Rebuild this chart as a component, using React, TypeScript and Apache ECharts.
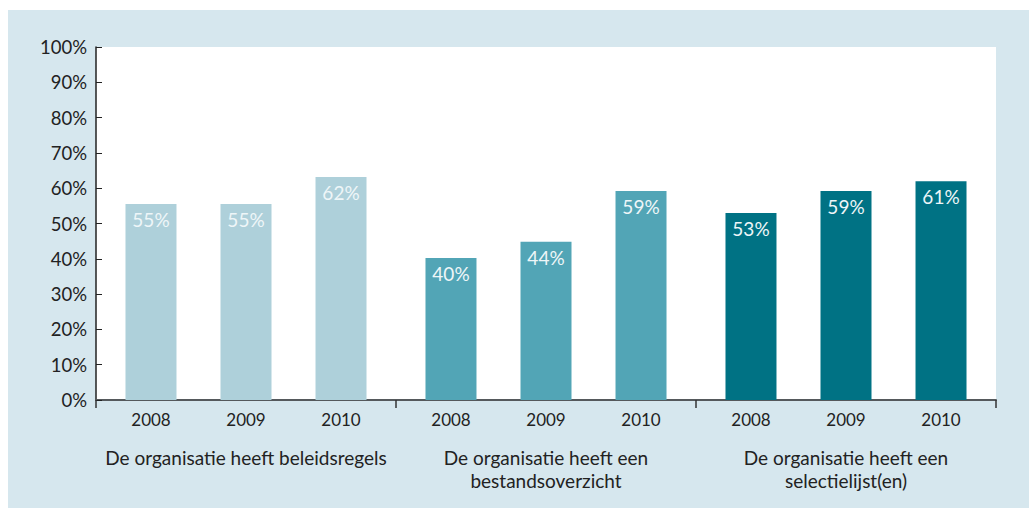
import React, { useEffect, useRef } from "react";
import * as echarts from "echarts";

// Categories
const groups = [
  "De organisatie heeft beleidsregels",
  "De organisatie heeft een\nbestandsoverzicht",
  "De organisatie heeft een\nselectielijst(en)",
];
const years = ["2008", "2009", "2010"];

// Bar heights (percent), per group, per year
const beleidsregels = [55.5, 55.5, 63.2];
const bestandsoverzicht = [40.2, 44.8, 59.2];
const selectielijst = [53, 59.2, 62];

// Printed labels (percent)
const beleidsregelsLabels = [55, 55, 62];
const bestandsoverzichtLabels = [40, 44, 59];
const selectielijstLabels = [53, 59, 61];

// Y tick labels
const yTicks = [0, 10, 20, 30, 40, 50, 60, 70, 80, 90, 100];

const groupColors = ["#aed0da", "#52a5b6", "#007284"];

const groupValues = [beleidsregels, bestandsoverzicht, selectielijst];
const groupLabels = [beleidsregelsLabels, bestandsoverzichtLabels, selectielijstLabels];

const FONT = "Lato";

export default function App() {
  const ref = useRef<HTMLDivElement>(null);

  useEffect(() => {
    if (!ref.current) return;
    const chart = echarts.init(ref.current, undefined, { renderer: "svg" });

    const series = years.map((yr, yi) => ({
      type: "bar",
      name: yr,
      barWidth: 51,
      barGap: "86.3%",
      data: groups.map((_, gi) => ({
        value: groupValues[gi][yi],
        itemStyle: { color: groupColors[gi] },
        label: {
          show: true,
          position: "insideTop",
          distance: 6,
          formatter: () => groupLabels[gi][yi] + "%",
          color: "#eef6f8",
          fontSize: 19,
          fontFamily: FONT,
        },
      })),
    }));

    chart.setOption({
      animation: false,
      backgroundColor: "transparent",
      textStyle: { fontFamily: FONT },
      grid: {
        left: 88,
        right: 33,
        top: 37,
        bottom: 108,
        show: true,
        backgroundColor: "#ffffff",
        borderWidth: 0,
      },
      xAxis: {
        type: "category",
        data: groups,
        boundaryGap: true,
        axisLine: { show: true, lineStyle: { color: "#55595c", width: 2 } },
        axisTick: { show: true, interval: 0, length: 8, lineStyle: { color: "#333", width: 1.5 } },
        axisLabel: {
          interval: 0,
          margin: 11,
          fontFamily: FONT,
          formatter: (val: string) =>
            years.map((y) => "{y|" + y + "}").join("") +
            "\n" +
            val
              .split("\n")
              .map((l) => "{g|" + l + "}")
              .join("\n"),
          rich: {
            y: {
              width: 95,
              align: "center",
              fontSize: 17,
              lineHeight: 35,
              verticalAlign: "top",
              color: "#222",
              fontFamily: FONT,
            },
            g: {
              align: "center",
              fontSize: 19,
              lineHeight: 23,
              color: "#222",
              fontFamily: FONT,
            },
          },
        },
        splitLine: { show: false },
      },
      yAxis: {
        type: "value",
        min: yTicks[0],
        max: yTicks[yTicks.length - 1],
        interval: yTicks[1] - yTicks[0],
        axisLine: { show: true, lineStyle: { color: "#222", width: 1.5 } },
        axisTick: { show: true, inside: true, length: 6, lineStyle: { color: "#222" } },
        splitLine: { show: false },
        axisLabel: {
          formatter: "{value}%",
          fontSize: 18.5,
          color: "#222",
          margin: 9,
          fontFamily: FONT,
        },
      },
      series,
    });

    return () => chart.dispose();
  }, []);

  return (
    <div
      ref={ref}
      style={{
        position: "absolute",
        left: 8,
        top: 10,
        width: 1021,
        height: 498,
        background: "#d6e7ee",
      }}
    />
  );
}
